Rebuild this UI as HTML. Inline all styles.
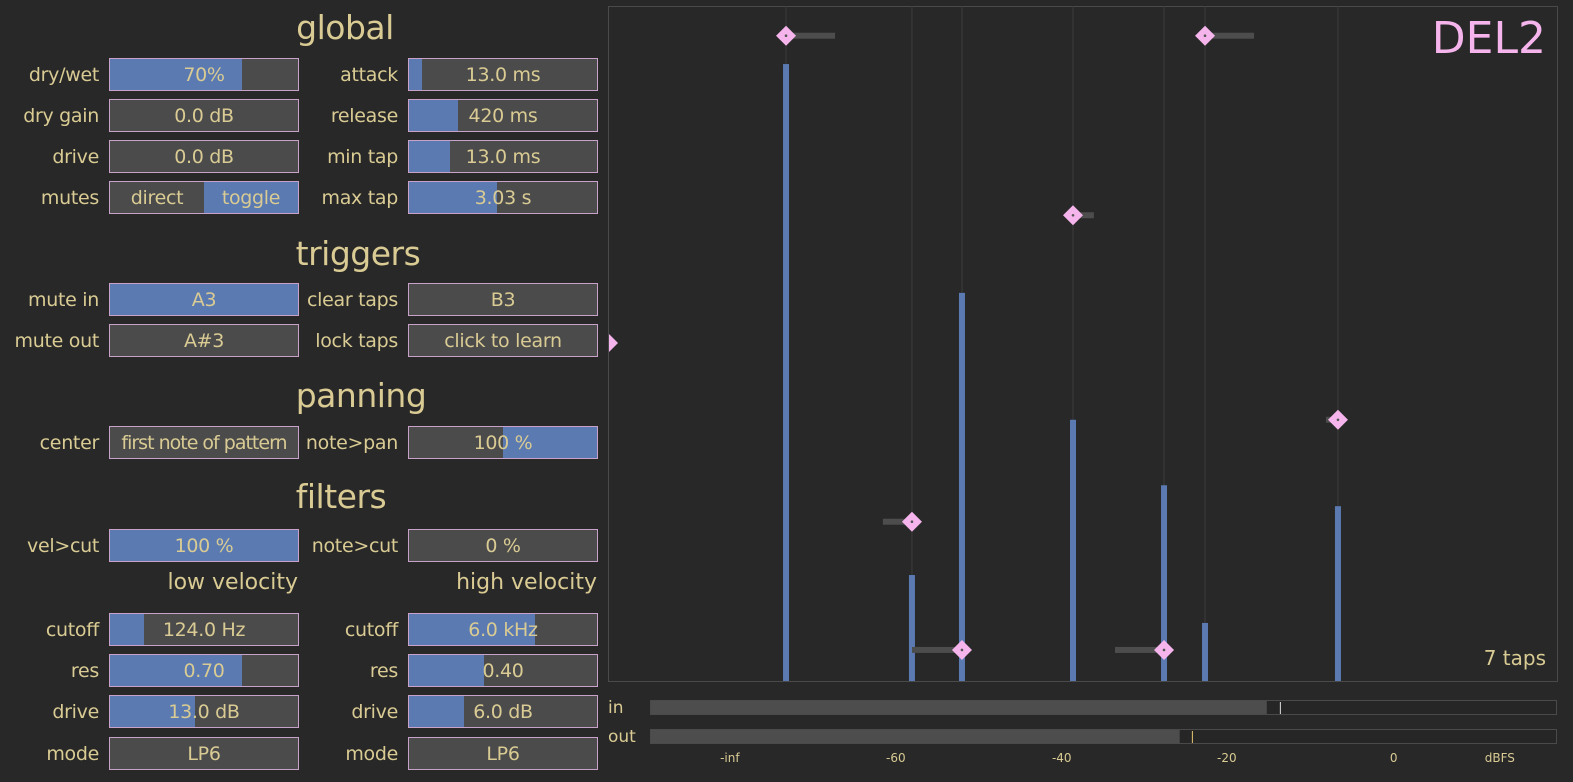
<!DOCTYPE html>
<html><head><meta charset="utf-8">
<style>
body{margin:0;width:1573px;height:782px;background:#282828;overflow:hidden;font-family:"DejaVu Sans","Liberation Sans",sans-serif;color:#d9cb93;position:relative}
.h{position:absolute;font-size:33px;transform:translateX(-50%);white-space:nowrap;letter-spacing:-0.5px}
.sh{position:absolute;font-size:22px;white-space:nowrap;text-align:right}
.lbl{position:absolute;font-size:19px;text-align:right;width:100px;white-space:nowrap;letter-spacing:-0.3px}
.box{position:absolute;width:188px;height:31px;background:#4b4b4b;border:1px solid #c9a2c9;overflow:hidden}
.fill{position:absolute;top:0;bottom:0;background:#5a7ab1}
.val{position:absolute;left:0;right:0;top:0;line-height:33px;text-align:center;font-size:19px;white-space:nowrap;letter-spacing:-0.3px}
</style></head><body>
<div id="left"></div>
<svg id="chart" width="1573" height="782" style="position:absolute;left:0;top:0;pointer-events:none" xmlns="http://www.w3.org/2000/svg"></svg>
<script>
const headers=[["global",345,8,"h"],["triggers",358,234,"h"],["panning",361,376,"h"],["filters",341,477,"h"]];
const left=document.getElementById('left');
headers.forEach(h=>{const d=document.createElement('div');d.className='h';d.style.left=h[1]+'px';d.style.top=h[2]+'px';d.textContent=h[0];


left.appendChild(d);});
const subs=[["low velocity",298,570],["high velocity",597,570]];
subs.forEach(s=>{const d=document.createElement('div');d.className='sh';d.style.right=(1573-s[1])+'px';d.style.top=s[2]+'px';d.textContent=s[0];


left.appendChild(d);});
const controls=[
["dry/wet","70%",0,58,0,0.70],["attack","13.0 ms",1,58,0,0.07],
["dry gain","0.0 dB",0,99,0,0],["release","420 ms",1,99,0,0.26],
["drive","0.0 dB",0,140,0,0],["min tap","13.0 ms",1,140,0,0.22],
["mutes","",0,181,0.5,1],["max tap","3.03 s",1,181,0,0.47],
["mute in","A3",0,283,0,1],["clear taps","B3",1,283,0,0],
["mute out","A#3",0,324,0,0],["lock taps","click to learn",1,324,0,0],
["center","first note of pattern",0,426,0,0],["note>pan","100 %",1,426,0.5,1],
["vel>cut","100 %",0,529,0,1],["note>cut","0 %",1,529,0,0],
["cutoff","124.0 Hz",0,613,0,0.18],["cutoff","6.0 kHz",1,613,0,0.67],
["res","0.70",0,654,0,0.70],["res","0.40",1,654,0,0.40],
["drive","13.0 dB",0,695,0,0.45],["drive","6.0 dB",1,695,0,0.29],
["mode","LP6",0,737,0,0],["mode","LP6",1,737,0,0]];
controls.forEach(c=>{
 const bx=c[2]?408:109;
 const l=document.createElement('div');l.className='lbl';l.style.left=(bx-110)+'px';l.style.top=(c[3]+6)+'px';l.textContent=c[0];
 
 
 left.appendChild(l);
 const b=document.createElement('div');b.className='box';b.style.left=bx+'px';b.style.top=c[3]+'px';
 
 
 if(c[5]>0){const f=document.createElement('div');f.className='fill';f.style.left=(c[4]*188)+'px';f.style.width=((c[5]-c[4])*188)+'px';b.appendChild(f);}
 if(c[0]==="mutes"){
  const a=document.createElement('div');a.className='val';a.style.right='50%';a.textContent='direct';b.appendChild(a);
  const t=document.createElement('div');t.className='val';t.style.left='50%';t.textContent='toggle';b.appendChild(t);
 } else {const v=document.createElement('div');v.className='val';v.textContent=c[1];if(c[1].length>15)v.style.letterSpacing='-1px';b.appendChild(v);}
 left.appendChild(b);
});

// ---- chart data ----
const tapTimes=[0.1876,0.3203,0.373,0.49,0.5859,0.6291,0.7692];
const tapLevels=[0.914,0.157,0.575,0.387,0.29,0.086,0.259];
const tapPans=[0.956,0.236,0.046,0.69,0.046,0.956,0.387];
const tapSpread=[0.155,-0.092,-0.158,0.066,-0.155,0.155,-0.038];
const meterIn=[0.68,0.695];
const meterOut=[0.584,0.598];
const meterTicks=["-inf","-60","-40","-20","0","dBFS"];
const meterTickPos=[0.088,0.271,0.454,0.636,0.82,0.937];

const svg=document.getElementById('chart');
const NS='http://www.w3.org/2000/svg';
const X0=608,X1=1557,Y0=6,Y1=681;
const xs=t=>X0+t*(X1-X0);
const ys=v=>Y1-v*(Y1-Y0);
function el(tag,attrs){const e=document.createElementNS(NS,tag);for(const k in attrs)e.setAttribute(k,attrs[k]);svg.appendChild(e);return e;}
let e=el('rect',{x:X0+0.5,y:Y0+0.5,width:X1-X0,height:Y1-Y0,fill:'#282828',stroke:'#4a4a4a'});


tapTimes.forEach((t,i)=>{
 const x=xs(t);
 let g=el('line',{x1:x,x2:x,y1:Y0,y2:Y1,stroke:'#3c3c3c','stroke-width':1});
 
 
});
tapTimes.forEach((t,i)=>{
 const x=xs(t);
 let b=el('rect',{x:x-3,y:ys(tapLevels[i]),width:6,height:Y1-ys(tapLevels[i]),fill:'#5a7ab1'});
 
 
 const y=ys(tapPans[i]);const s=tapSpread[i]*(X1-X0)/3;
 let sp=el('rect',{x:Math.min(x,x+s),y:y-3,width:Math.abs(s),height:6,fill:'#4d4d4d'});
 
 
 let d=el('polygon',{points:`${x},${y-10} ${x+10},${y} ${x},${y+10} ${x-10},${y}`,fill:'#f5b5ec'});
 
 
 el('circle',{cx:x,cy:y,r:1.3,fill:'#555'});
});
let tri=el('polygon',{points:'609,334 618,343 609,352',fill:'#f5b5ec'});


let ti=el('text',{x:1546,y:665,'text-anchor':'end','font-size':20,fill:'#d9cb93','font-family':'DejaVu Sans, Liberation Sans, sans-serif'});ti.textContent='7 taps';


let tt=el('text',{x:1546,y:53,'text-anchor':'end','font-size':44,fill:'#f5b5ec','font-family':'DejaVu Sans, Liberation Sans, sans-serif'});tt.textContent='DEL2';


const MX0=650,MX1=1557;
const mx=v=>MX0+v*(MX1-MX0);
[[meterIn,700,'in','#e0e0e0'],[meterOut,729,'out','#e8c870']].forEach(m=>{
 let r=el('rect',{x:MX0+0.5,y:m[1]+0.5,width:MX1-MX0-1,height:14,fill:'#262626',stroke:'#4a4a4a'});
 
 
 let f=el('rect',{x:MX0+1,y:m[1]+1,width:mx(m[0][0])-MX0-1,height:13,fill:'#4d4d4d'});
 
 
 let p=el('line',{x1:mx(m[0][1]),x2:mx(m[0][1]),y1:m[1]+2,y2:m[1]+14,stroke:m[3],'stroke-width':1});
 
 
 let t=el('text',{x:608,y:m[1]+13,'font-size':17,fill:'#d9cb93','font-family':'DejaVu Sans, Liberation Sans, sans-serif'});t.textContent=m[2];
 
 
});
meterTicks.forEach((s,i)=>{
 let t=el('text',{x:mx(meterTickPos[i]),y:762,'text-anchor':'middle','font-size':12,fill:'#d9cb93','font-family':'DejaVu Sans, Liberation Sans, sans-serif'});t.textContent=s;
 
 
});
</script>
</body></html>
